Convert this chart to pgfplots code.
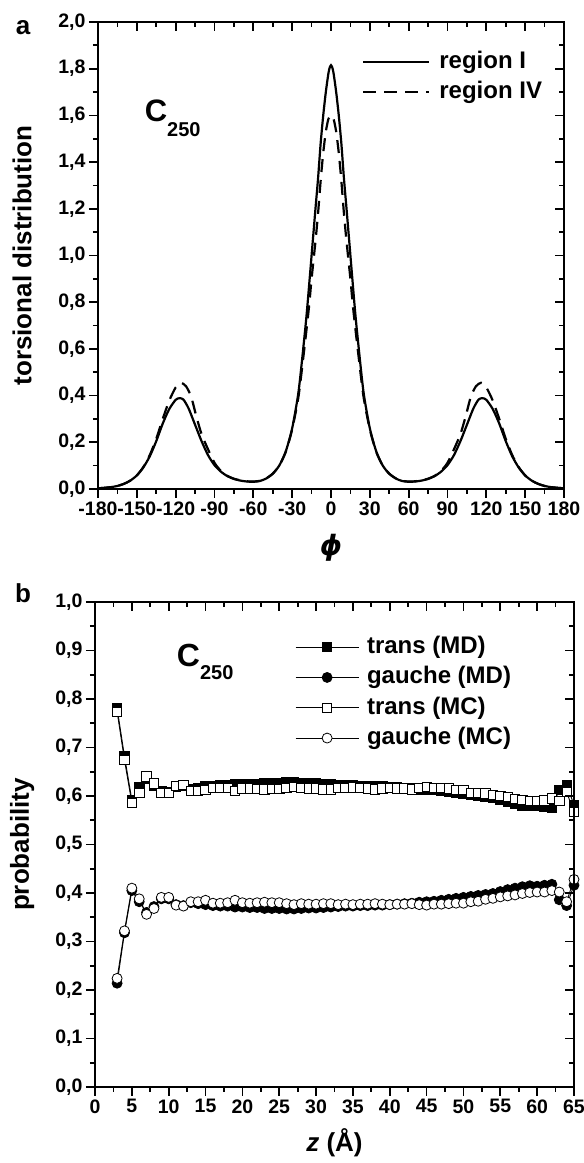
\documentclass[border=0pt]{standalone}
\usepackage{fontspec}
\setmainfont{Liberation Sans}
\newfontfamily\dejavu{DejaVu Sans}
\usepackage{pgfplots}
\pgfplotsset{compat=1.18}

\pgfplotstableread{
phi val
-180 0.003
-175 0.005
-170 0.008
-165 0.013
-160 0.022
-155 0.036
-150 0.058
-145 0.092
-140 0.140
-135 0.205
-130 0.280
-125 0.342
-120 0.382
-117 0.389
-114 0.383
-110 0.345
-105 0.275
-100 0.205
-95 0.145
-90 0.102
-85 0.074
-80 0.055
-75 0.043
-70 0.036
-65 0.032
-60 0.031
-55 0.034
-50 0.045
-45 0.065
-40 0.100
-35 0.160
-30 0.260
-25 0.420
-20 0.680
-18 0.800
-15 1.000
-12 1.200
-10 1.330
-8 1.480
-6 1.600
-4 1.700
-2 1.780
-1 1.805
0 1.815
1 1.805
2 1.780
4 1.700
6 1.600
8 1.480
10 1.330
12 1.200
15 1.000
18 0.800
20 0.680
25 0.420
30 0.260
35 0.160
40 0.100
45 0.065
50 0.045
55 0.034
60 0.031
65 0.032
70 0.036
75 0.043
80 0.055
85 0.074
90 0.102
95 0.145
100 0.205
105 0.275
110 0.345
114 0.383
117 0.389
120 0.382
125 0.342
130 0.280
135 0.205
140 0.140
145 0.092
150 0.058
155 0.036
160 0.022
165 0.013
170 0.008
175 0.005
180 0.003
}\regionI

\pgfplotstableread{
phi val
-180 0.003
-175 0.005
-170 0.008
-165 0.013
-160 0.022
-155 0.036
-150 0.058
-145 0.094
-140 0.145
-135 0.215
-130 0.300
-125 0.378
-120 0.435
-116 0.455
-112 0.440
-108 0.395
-104 0.310
-100 0.235
-95 0.170
-90 0.112
-85 0.077
-80 0.056
-75 0.044
-70 0.037
-65 0.033
-60 0.032
-55 0.035
-50 0.046
-45 0.066
-40 0.100
-35 0.158
-30 0.255
-25 0.400
-20 0.630
-17 0.780
-15 0.900
-12 1.060
-10 1.180
-8 1.320
-6 1.440
-4 1.530
-2 1.585
0 1.600
2 1.585
4 1.530
6 1.440
8 1.320
10 1.180
12 1.060
15 0.900
17 0.780
20 0.630
25 0.400
30 0.255
35 0.158
40 0.100
45 0.066
50 0.046
55 0.035
60 0.032
65 0.033
70 0.037
75 0.044
80 0.056
85 0.077
90 0.112
95 0.170
100 0.235
104 0.310
108 0.395
112 0.440
116 0.455
120 0.435
125 0.378
130 0.300
135 0.215
140 0.145
145 0.094
150 0.058
155 0.036
160 0.022
165 0.013
170 0.008
175 0.005
180 0.003
}\regionIV

\pgfplotstableread{
z tMD gMD tMC gMC
3 0.781 0.214 0.774 0.224
4 0.682 0.318 0.674 0.322
5 0.592 0.405 0.586 0.410
6 0.618 0.382 0.607 0.388
7 0.636 0.360 0.640 0.356
8 0.622 0.372 0.626 0.368
9 0.610 0.388 0.606 0.391
10 0.609 0.388 0.606 0.391
11 0.620 0.376 0.621 0.375
12 0.622 0.374 0.623 0.373
13 0.615 0.380 0.611 0.382
14 0.617 0.378 0.611 0.382
15 0.620 0.376 0.612 0.385
16 0.621 0.374 0.617 0.379
17 0.622 0.373 0.617 0.379
18 0.622 0.373 0.617 0.380
19 0.624 0.371 0.610 0.385
20 0.624 0.371 0.616 0.380
21 0.625 0.370 0.616 0.379
22 0.625 0.370 0.615 0.380
23 0.627 0.368 0.614 0.381
24 0.627 0.368 0.615 0.380
25 0.627 0.368 0.615 0.380
26 0.628 0.367 0.617 0.378
27 0.628 0.367 0.619 0.376
28 0.627 0.368 0.617 0.378
29 0.626 0.369 0.616 0.377
30 0.626 0.369 0.616 0.377
31 0.625 0.370 0.614 0.378
32 0.624 0.371 0.614 0.378
33 0.623 0.372 0.617 0.376
34 0.622 0.373 0.617 0.377
35 0.622 0.373 0.618 0.376
36 0.621 0.374 0.617 0.377
37 0.621 0.374 0.616 0.377
38 0.620 0.375 0.614 0.378
39 0.620 0.375 0.616 0.377
40 0.619 0.376 0.617 0.376
41 0.618 0.377 0.616 0.377
42 0.617 0.378 0.616 0.377
43 0.616 0.379 0.614 0.378
44 0.614 0.381 0.617 0.376
45 0.613 0.382 0.619 0.375
46 0.612 0.383 0.617 0.377
47 0.610 0.385 0.617 0.377
48 0.608 0.387 0.616 0.378
49 0.606 0.389 0.612 0.379
50 0.604 0.391 0.612 0.379
51 0.602 0.393 0.607 0.382
52 0.600 0.395 0.606 0.383
53 0.598 0.397 0.605 0.387
54 0.596 0.399 0.602 0.389
55 0.592 0.403 0.600 0.392
56 0.588 0.407 0.598 0.394
57 0.584 0.410 0.594 0.396
58 0.581 0.413 0.592 0.399
59 0.579 0.415 0.590 0.401
60 0.580 0.414 0.590 0.402
61 0.578 0.416 0.591 0.402
62 0.576 0.418 0.595 0.405
63 0.612 0.386 0.590 0.402
64 0.623 0.374 0.608 0.382
65 0.582 0.416 0.567 0.428
}\probdata

\pgfplotsset{
  base/.style={
    scale only axis,
    axis line style={line width=2.2pt},
    major tick length=9pt,
    minor tick length=5pt,
    every tick/.style={black, line width=1.7pt},
    tick label style={font=\fontsize{19.5}{19.5}\selectfont\bfseries},
    label style={font=\fontsize{26}{26}\selectfont\bfseries},
    /pgf/number format/assume math mode=true,
    yticklabel style={/pgf/number format/fixed, /pgf/number format/fixed zerofill,
      /pgf/number format/precision=1, /pgf/number format/use comma},
    minor x tick num=1,
    minor y tick num=1,
  },
  topax/.style={base, at={(98pt,674pt)}, anchor=south west, width=466pt, height=467pt,
    xmin=-180, xmax=180, ymin=0, ymax=2,
    xtick={-180,-150,-120,-90,-60,-30,0,30,60,90,120,150,180},
    ytick={0,0.2,0.4,0.6,0.8,1.0,1.2,1.4,1.6,1.8,2.0}},
  botax/.style={base, at={(95pt,76pt)}, anchor=south west, width=479pt, height=485pt,
    xmin=0, xmax=65, ymin=0, ymax=1,
    xtick={0,5,10,15,20,25,30,35,40,45,50,55,60,65},
    ytick={0,0.1,0.2,0.3,0.4,0.5,0.6,0.7,0.8,0.9,1.0}},
}

\begin{document}
\begin{tikzpicture}
\path[use as bounding box] (0pt,0pt) rectangle (584pt,1163pt);

% ---------- panel a ----------
\begin{axis}[topax, tick align=outside, xtick pos=bottom, ytick pos=left,
  xticklabels={-180,-150,-120,-90,-60,-30,0,30,60,90,120,150,180},
  ylabel={torsional distribution},
  ylabel style={at={(axis description cs:-0.163,0.5)}, anchor=center},
  xlabel={\fontsize{28}{28}\selectfont\dejavu\bfseries\itshape ϕ},
  xlabel style={at={(axis description cs:0.5,-0.126)}, anchor=center},
  legend cell align=left,
  legend style={at={(0.5665,0.939)}, anchor=north west, draw=none, fill=none,
    font=\fontsize{24}{24}\selectfont\bfseries, inner sep=0pt, row sep=7pt, column sep=9pt,
    nodes={inner sep=0pt, text height=18pt, text depth=5pt}},
  legend image code/.code={\draw[#1] (0pt,0pt) -- (66pt,0pt);},
]
\addplot[black, line width=2.2pt, smooth, tension=0.4] table[x=phi, y=val] {\regionI};
\addlegendentry{region I}
\addplot[black, line width=2.2pt, dash pattern=on 13pt off 8pt, smooth, tension=0.4] table[x=phi, y=val] {\regionIV};
\addlegendentry{region IV}
\node[anchor=base west, inner sep=0pt] at (axis cs:-144,1.572)
  {\fontsize{31}{31}\selectfont\bfseries C\raisebox{-15pt}{\fontsize{20}{20}\selectfont 250}};
\end{axis}
\begin{axis}[topax, tick align=inside, xtick pos=top, ytick pos=right,
  xticklabels={}, yticklabels={}]
\end{axis}

% ---------- panel b ----------
\begin{axis}[botax, tick align=outside, xtick pos=bottom, ytick pos=left,
  ylabel={probability},
  ylabel style={at={(axis description cs:-0.152,0.5)}, anchor=center},
  xlabel={\textit{z} (Å)},
  xlabel style={at={(axis description cs:0.5,-0.115)}, anchor=center},
  legend cell align=left,
  legend style={at={(0.4175,0.931)}, anchor=north west, draw=none, fill=none,
    font=\fontsize{24}{24}\selectfont\bfseries, inner sep=0pt, row sep=7.3pt, column sep=8pt,
    nodes={inner sep=0pt, text height=18pt, text depth=5pt}},
  legend image code/.code={\draw[mark repeat=2, mark phase=2, #1] plot coordinates {(0pt,0pt) (31.5pt,0pt) (63pt,0pt)};},
]
\addplot[black, line width=0.9pt, mark=square*, mark size=4.7pt, mark options={fill=black, solid, line width=0.8pt}] table[x=z, y=tMD] {\probdata};
\addlegendentry{trans (MD)}
\addplot[black, line width=0.9pt, mark=*, mark size=5pt, mark options={fill=black, solid, line width=0.8pt}] table[x=z, y=gMD] {\probdata};
\addlegendentry{gauche (MD)}
\addplot[black, line width=0.9pt, mark=square*, mark size=4.7pt, mark options={fill=white, solid, line width=0.8pt}] table[x=z, y=tMC] {\probdata};
\addlegendentry{trans (MC)}
\addplot[black, line width=0.9pt, mark=*, mark size=5pt, mark options={fill=white, solid, line width=0.8pt}] table[x=z, y=gMC] {\probdata};
\addlegendentry{gauche (MC)}
\node[anchor=base west, inner sep=0pt] at (axis cs:11.1,0.866)
  {\fontsize{32}{32}\selectfont\bfseries C\raisebox{-13pt}{\fontsize{20}{20}\selectfont 250}};
\end{axis}
\begin{axis}[botax, tick align=inside, xtick pos=top, ytick pos=right,
  xticklabels={}, yticklabels={}]
\end{axis}

\node[font=\fontsize{26}{26}\selectfont\bfseries] at (23pt,1135pt) {a};
\node[font=\fontsize{26}{26}\selectfont\bfseries] at (23pt,570pt) {b};
\end{tikzpicture}
\end{document}
